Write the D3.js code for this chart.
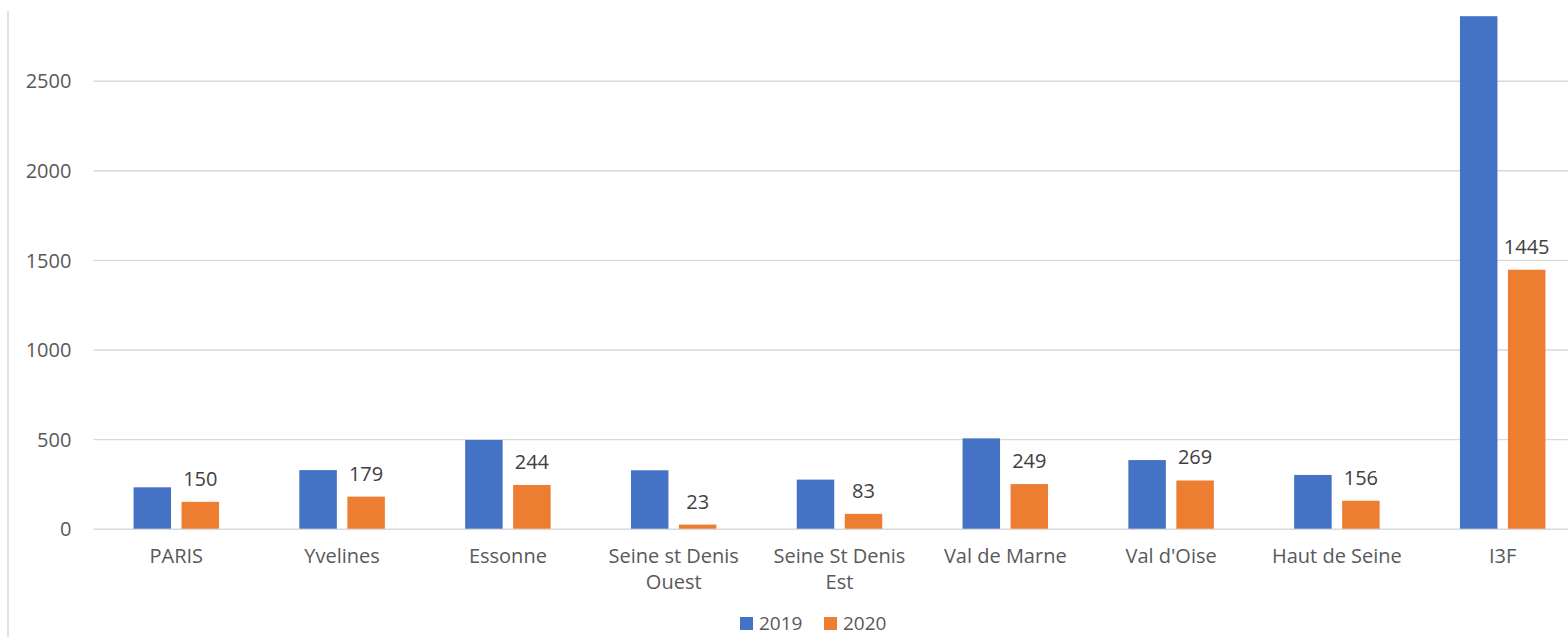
<!DOCTYPE html>
<html>
<head>
<meta charset="utf-8">
<script src="https://cdn.jsdelivr.net/npm/d3@7"></script>
<style>
  html, body { margin: 0; padding: 0; background: #fff; }
  svg { display: block; }
  text { font-family: "Open Sans", "Liberation Sans", sans-serif; }
</style>
</head>
<body>
<svg id="chart" width="1568" height="637"></svg>
<script>
// Categories (two-line labels split on "\n")
const categories = [
  "PARIS", "Yvelines", "Essonne", "Seine st Denis\nOuest", "Seine St Denis\nEst",
  "Val de Marne", "Val d'Oise", "Haut de Seine", "I3F"
];
const seriesNames = ["2019", "2020"];
const values2019 = [231, 327, 495, 326, 274, 504, 383, 300, 2860];
const values2020 = [150, 179, 244, 23, 83, 249, 269, 156, 1445];
const yTicks = [0, 500, 1000, 1500, 2000, 2500];
const colors = ["#4472C4", "#ED7D31"];

const svg = d3.select("#chart");
const W = 1568, H = 637;

// Plot area (the right side runs past the visible frame)
const plot = { left: 93.4, right: 1585.6, top: -8.9, bottom: 528.7 };

const x0 = d3.scaleBand().domain(categories).range([plot.left, plot.right]).paddingInner(0).paddingOuter(0);
const groupPad = x0.bandwidth() * 0.2422;
const x1 = d3.scaleBand().domain(seriesNames)
  .range([groupPad, x0.bandwidth() - groupPad]).paddingInner(0.219).paddingOuter(0);
const y = d3.scaleLinear().domain([0, 3000]).range([plot.bottom, plot.top]);

// Frame line on the left
svg.append("line")
  .attr("x1", 8).attr("x2", 8).attr("y1", 11).attr("y2", H)
  .attr("stroke", "#d9d9d9").attr("stroke-width", 1.5);

// Horizontal gridlines + y labels via axis
const yAxis = d3.axisLeft(y).tickValues(yTicks).tickFormat(d3.format("d"))
  .tickSize(-(W - plot.left)).tickPadding(22);
const gy = svg.append("g").attr("transform", `translate(${plot.left},0)`).call(yAxis);
gy.select(".domain").remove();
gy.selectAll(".tick line").attr("stroke", "#d9d9d9").attr("stroke-width", 1.4);
gy.selectAll(".tick text")
  .attr("fill", "#595959").attr("font-size", 20).attr("dy", "0.36em");

// Bars
const rows = categories.map((c, i) => ({ cat: c, vals: [values2019[i], values2020[i]] }));
const groups = svg.append("g").selectAll("g").data(rows).join("g")
  .attr("transform", d => `translate(${x0(d.cat)},0)`);

groups.selectAll("rect")
  .data(d => d.vals.map((v, k) => ({ key: seriesNames[k], v, k })))
  .join("rect")
  .attr("x", d => x1(d.key))
  .attr("width", x1.bandwidth())
  .attr("y", d => y(d.v))
  .attr("height", d => y(0) - y(d.v))
  .attr("fill", d => colors[d.k]);

// Value labels on the 2020 series
groups.append("text")
  .attr("x", x1("2020") + x1.bandwidth() / 2)
  .attr("y", d => y(d.vals[1]) - 16)
  .attr("text-anchor", "middle")
  .attr("fill", "#404040")
  .attr("font-size", 20)
  .text(d => d.vals[1]);

// Category labels
const gx = svg.append("g");
rows.forEach(r => {
  const lines = r.cat.split("\n");
  const cx = x0(r.cat) + x0.bandwidth() / 2;
  const t = gx.append("text")
    .attr("x", cx)
    .attr("y", 563)
    .attr("text-anchor", "middle")
    .attr("fill", "#595959")
    .attr("font-size", 20);
  lines.forEach((ln, i) => {
    t.append("tspan").attr("x", cx).attr("dy", i === 0 ? 0 : 26).text(ln);
  });
});

// Legend
const legend = svg.append("g").attr("transform", "translate(740,617)");
const legendX = [0, 84];
seriesNames.forEach((s, i) => {
  const g = legend.append("g").attr("transform", `translate(${legendX[i]},0)`);
  g.append("rect").attr("width", 13).attr("height", 13).attr("fill", colors[i]);
  g.append("text").attr("x", 19).attr("y", 13).attr("fill", "#595959")
    .attr("font-size", 19).text(s);
});
</script>
</body>
</html>
